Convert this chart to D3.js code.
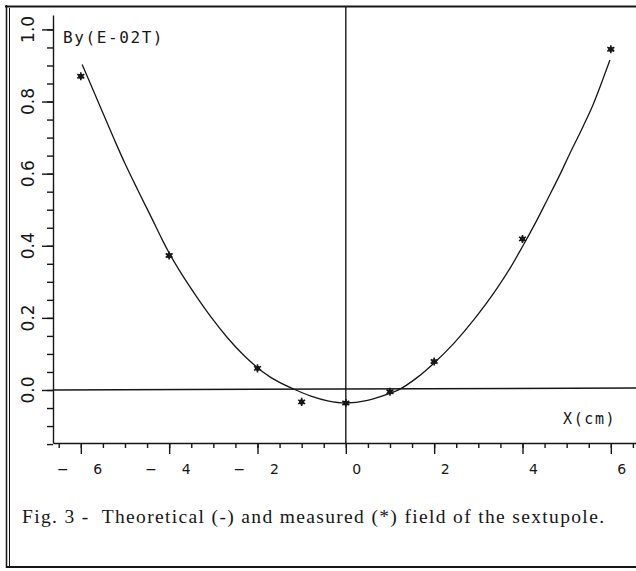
<!DOCTYPE html>
<html><head><meta charset="utf-8">
<script src="https://cdn.jsdelivr.net/npm/d3@7"></script>
<style>body{margin:0;background:#fff}svg{display:block}</style>
</head><body>
<svg id="c" width="636" height="571"></svg>
<script>
// ---- data ----
const measuredX = [-6, -4, -2, -1, 0, 1, 2, 4, 6];
const measuredY = [0.87, 0.373, 0.060, -0.033, -0.036, -0.005, 0.079, 0.419, 0.945];
const theoryX = [-5.97, -5.7, -5.5, -5.24, -5.0, -4.7, -4.4, -4.15, -4.0, -3.73, -3.43, -3.05, -2.68, -2.3, -2.0, -1.7, -1.17, -0.79, -0.41, 0, 0.49, 1.0, 1.17, 1.62, 2.0, 2.45, 2.9, 3.43, 3.73, 4.0, 4.3, 4.55, 4.85, 5.07, 5.38, 5.6, 5.83, 5.98];
const theoryY = [0.903, 0.826, 0.768, 0.694, 0.628, 0.552, 0.478, 0.415, 0.38, 0.324, 0.268, 0.202, 0.145, 0.095, 0.062, 0.035, 0.002, -0.017, -0.030, -0.036, -0.029, -0.009, -0.001, 0.035, 0.075, 0.130, 0.195, 0.283, 0.340, 0.398, 0.465, 0.525, 0.598, 0.655, 0.733, 0.792, 0.865, 0.915];
const xTicks = [-6, -4, -2, 0, 2, 4, 6];
const xTickLabels = ["6", "4", "2", "0", "2", "4", "6"];
const yTicks = [0, 0.2, 0.4, 0.6, 0.8, 1.0];
const yTickLabels = ["0.0", "0.2", "0.4", "0.6", "0.8", "1.0"];
const yTitle = "By(E-02T)";
const xTitle = "X(cm)";
const caption = "Fig. 3 -  Theoretical (-) and measured (*) field of the sextupole.";

// ---- layout ----
const svg = d3.select("#c");
const ink = "#161616";
const x = d3.scaleLinear().domain([-6.63, 6.57]).range([53, 636]);
const y = d3.scaleLinear().domain([-0.147, 1.04]).range([443, 15]);

// frame
const frame = svg.append("g").attr("stroke", ink).attr("fill", "none");
frame.append("line").attr("x1", 5).attr("x2", 636).attr("y1", 6.5).attr("y2", 6.5).attr("stroke-width", 2);
frame.append("line").attr("x1", 6.5).attr("x2", 6.5).attr("y1", 5).attr("y2", 568).attr("stroke-width", 1.5);
frame.append("line").attr("x1", 9.5).attr("x2", 9.5).attr("y1", 8).attr("y2", 566).attr("stroke-width", 1);
frame.append("line").attr("x1", 6).attr("x2", 636).attr("y1", 567).attr("y2", 567).attr("stroke-width", 2);

// axes
function styleAxis(g) {
  g.selectAll("path,line").attr("stroke", ink).attr("stroke-width", 1.4);
  g.selectAll("text").remove();
}
svg.append("g").attr("transform", "translate(0,443)")
  .call(d3.axisBottom(x).tickValues(d3.range(-6.5, 6.51, 0.5)).tickSize(5).tickSizeOuter(0).tickFormat(""))
  .call(styleAxis);
svg.append("g").attr("transform", "translate(0,443)")
  .call(d3.axisBottom(x).tickValues(xTicks).tickSize(11).tickSizeOuter(0).tickFormat(""))
  .call(styleAxis).call(g => g.select(".domain").remove());
svg.append("g").attr("transform", "translate(53,0)")
  .call(d3.axisLeft(y).tickValues(d3.range(-0.15, 1.0001, 0.05)).tickSize(6).tickSizeOuter(0).tickFormat(""))
  .call(styleAxis);
svg.append("g").attr("transform", "translate(53,0)")
  .call(d3.axisLeft(y).tickValues(yTicks).tickSize(11).tickSizeOuter(0).tickFormat(""))
  .call(styleAxis).call(g => g.select(".domain").remove());

// zero lines
svg.append("line").attr("x1", x(0)).attr("x2", x(0)).attr("y1", 7).attr("y2", 443)
  .attr("stroke", ink).attr("stroke-width", 1.4);
svg.append("line").attr("x1", 53).attr("x2", 636).attr("y1", y(0)).attr("y2", y(0) - 2)
  .attr("stroke", ink).attr("stroke-width", 1.4);

// tick labels
const lblFont = "'DejaVu Sans', sans-serif";
const xl = svg.append("g").attr("font-family", lblFont).attr("font-size", 14).attr("fill", ink)
  .attr("text-anchor", "middle");
xTicks.forEach((v, i) => {
  if (v < 0) {
    xl.append("text").attr("x", x(v) - 18).attr("y", 473.5).text("\u2212");
    xl.append("text").attr("x", x(v) + 17).attr("y", 473.5).text(xTickLabels[i]);
  } else {
    xl.append("text").attr("x", x(v) + 11).attr("y", 473.5).text(xTickLabels[i]);
  }
});
const yl = svg.append("g").attr("font-family", lblFont).attr("font-size", 17).attr("fill", ink)
  .attr("text-anchor", "middle");
yTicks.forEach((v, i) => {
  yl.append("text").attr("transform", `translate(34,${y(v)}) rotate(-90)`).text(yTickLabels[i]);
});

// titles
svg.append("text").attr("x", 63).attr("y", 43).attr("font-family", "'DejaVu Sans Mono', monospace")
  .attr("font-size", 16).attr("letter-spacing", 1.6).attr("fill", ink).text(yTitle);
svg.append("text").attr("x", 563).attr("y", 424).attr("font-family", "'DejaVu Sans Mono', monospace")
  .attr("font-size", 15).attr("letter-spacing", 1.6).attr("fill", ink).text(xTitle);

// theory curve
const line = d3.line().x(d => x(d[0])).y(d => y(d[1])).curve(d3.curveMonotoneX);
svg.append("path").datum(d3.zip(theoryX, theoryY)).attr("d", line)
  .attr("fill", "none").attr("stroke", ink).attr("stroke-width", 1.3);

// measured points
const pts = svg.append("g").selectAll("g").data(d3.zip(measuredX, measuredY)).join("g")
  .attr("transform", d => `translate(${x(d[0])},${y(d[1])})`);
pts.append("path").attr("d", d3.symbol(d3.symbolAsterisk, 45)())
  .attr("stroke", ink).attr("stroke-width", 1.6).attr("fill", "none");
pts.append("circle").attr("r", 2.6).attr("fill", ink);

// caption
svg.append("text").attr("x", 22).attr("y", 523).attr("font-family", "'Liberation Serif', 'Times New Roman', serif")
  .attr("font-size", 19.5).attr("fill", ink).attr("textLength", 582).attr("lengthAdjust", "spacing")
  .style("white-space", "pre").text(caption);
</script>
</body></html>
